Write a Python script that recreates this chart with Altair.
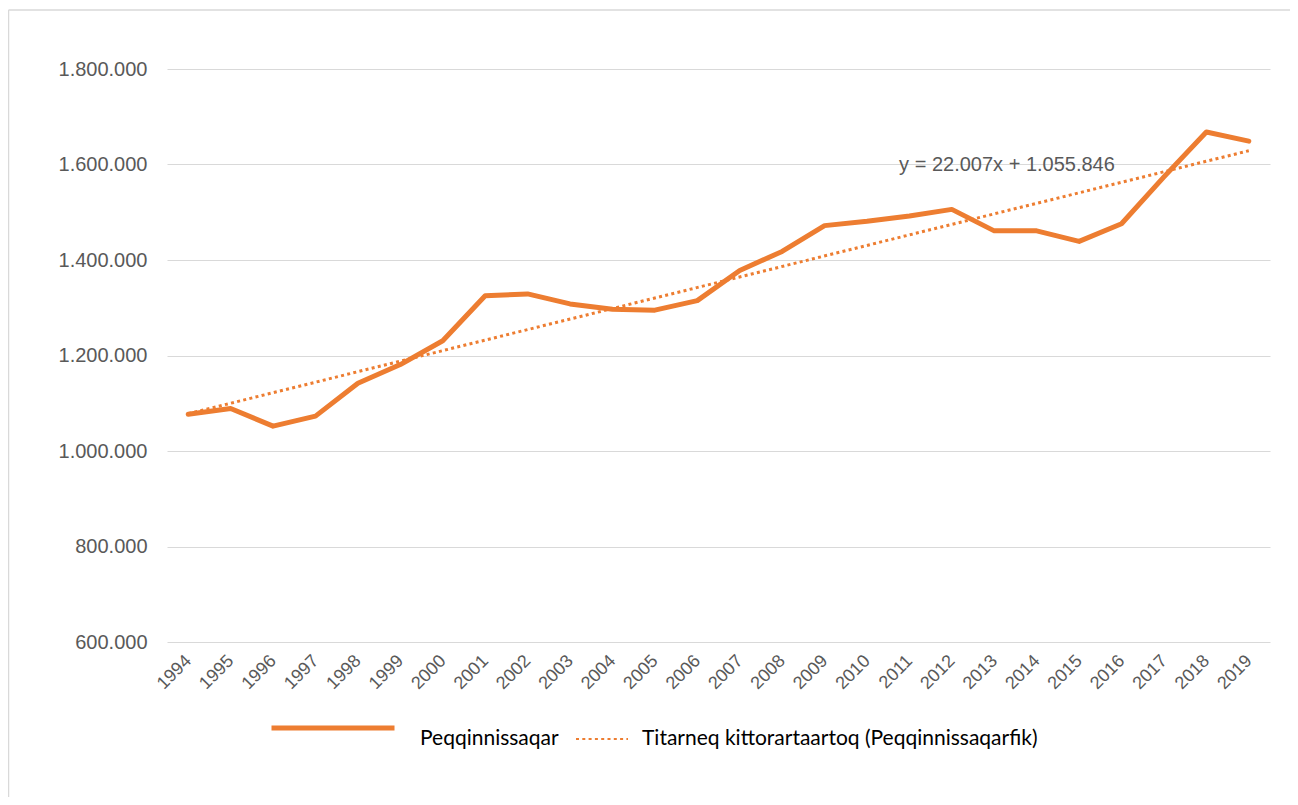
import altair as alt
import pandas as pd

# ---- data ----
years = [1994, 1995, 1996, 1997, 1998, 1999, 2000, 2001, 2002, 2003, 2004, 2005, 2006,
         2007, 2008, 2009, 2010, 2011, 2012, 2013, 2014, 2015, 2016, 2017, 2018, 2019]
values = [1077000, 1089000, 1052000, 1073000, 1142000, 1181000, 1231000, 1325000,
          1329000, 1308000, 1297000, 1295000, 1315000, 1378000, 1418000, 1472000,
          1481000, 1492000, 1506000, 1461000, 1461000, 1439000, 1476000, 1574000,
          1668000, 1649000]
series_name = "Peqqinnissaqar"
trend_name = "Titarneq kittorartaartoq (Peqqinnissaqarfik)"
equation_label = ["y = 22.007x + 1.055.846"]
equation_year = [2013.3]
equation_value = [1600000]
y_ticks = [600000, 800000, 1000000, 1200000, 1400000, 1600000, 1800000]

df = pd.DataFrame({"year": years, "value": values, "series": series_name})
ann = pd.DataFrame({"year": equation_year, "value": equation_value, "label": equation_label})

ORANGE = "#ED7D31"
GRAY = "#595959"
W, H = 1103, 573
PAD = {"left": 159, "top": 61, "right": 20, "bottom": 155}

x_enc = alt.X(
    "year:Q",
    scale=alt.Scale(domain=[1993.5, 2019.5], nice=False, zero=False),
    axis=alt.Axis(values=years, format="d", labelAngle=-45, labelAlign="right",
                  labelBaseline="middle", grid=False, ticks=False, domain=False,
                  labelPadding=16, labelFont="Liberation Sans", labelFontSize=18,
                  labelColor=GRAY, title=None, labelOverlap=False),
)
y_enc = alt.Y(
    "value:Q",
    scale=alt.Scale(domain=[600000, 1800000], nice=False, zero=False),
    axis=alt.Axis(values=y_ticks,
                  labelExpr="replace(format(datum.value, ','), regexp(',', 'g'), '.')",
                  grid=True, gridColor="#d9d9d9", gridWidth=1, domain=False, ticks=False,
                  labelFont="Liberation Sans", labelFontSize=20, labelColor=GRAY,
                  labelPadding=20, title=None),
)

base = alt.Chart(df)

line = base.mark_line(strokeWidth=5, strokeJoin="round", strokeCap="round").encode(
    x=x_enc,
    y=y_enc,
    color=alt.Color("series:N", scale=alt.Scale(range=[ORANGE]),
                    legend=alt.Legend(title=None, orient="none", legendX=102, legendY=595,
                                      symbolType="stroke", symbolSize=123 * 123,
                                      symbolStrokeWidth=5, labelFont="Lato",
                                      labelFontSize=21, labelColor="#000000",
                                      labelOffset=23, labelLimit=0,
                                      labelBaseline="top")),
)

trend = base.transform_regression(
    "year", "value", method="linear", extent=[1994, 2019]
).transform_calculate(
    trend_series=f"'{trend_name}'"
).mark_line(strokeWidth=3, color=ORANGE).encode(
    x="year:Q",
    y="value:Q",
    strokeDash=alt.StrokeDash("trend_series:N", scale=alt.Scale(range=[[3, 3.3]]),
                              legend=alt.Legend(title=None, orient="none", legendX=408,
                                                legendY=643, symbolType="stroke",
                                                symbolSize=52 * 52, symbolStrokeWidth=2,
                                                symbolStrokeColor=ORANGE,
                                                labelFont="Lato", labelFontSize=21,
                                                labelColor="#000000", labelOffset=13,
                                                labelLimit=0)),
)

eq_text = alt.Chart(ann).mark_text(
    font="Liberation Sans", fontSize=20, color=GRAY, align="center", baseline="middle"
).encode(x="year:Q", y="value:Q", text="label:N")

frame_data = pd.DataFrame({"k": [0]})
frame_top = alt.Chart(frame_data).mark_rule(color="#d9d9d9", strokeWidth=1.5).encode(
    x=alt.value(-158.5), x2=alt.value(W + PAD["right"]), y=alt.value(-59))
frame_left = alt.Chart(frame_data).mark_rule(color="#d9d9d9", strokeWidth=1.5).encode(
    x=alt.value(-158.5), y=alt.value(-59), y2=alt.value(H + PAD["bottom"]))

chart = alt.layer(frame_top, frame_left, trend, line, eq_text).properties(
    width=W, height=H, padding=PAD, autosize=alt.AutoSizeParams(type="none"),
    background="white",
).configure_view(stroke=None).resolve_legend(color="independent", strokeDash="independent")

chart.save("out.html", embed_options={"renderer": "svg", "actions": False})
